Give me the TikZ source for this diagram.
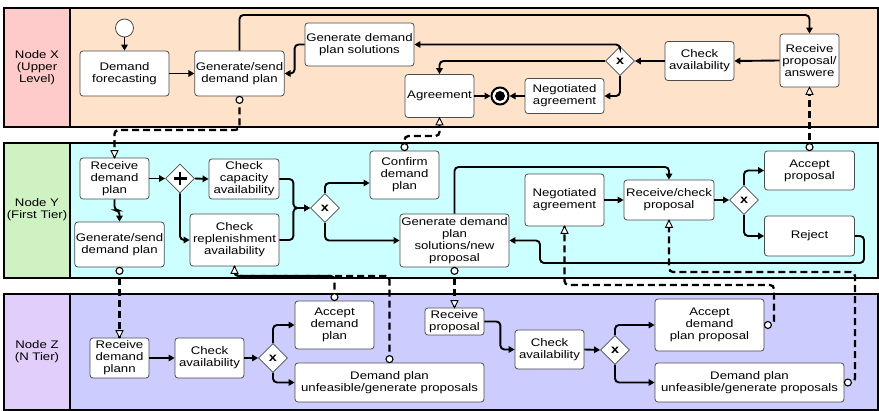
\documentclass[tikz,border=0pt]{standalone}
\usepackage{fontspec}
\setmainfont{Liberation Sans}[FakeStretch=1.2]
\usetikzlibrary{arrows.meta,shapes.geometric,calc}

\definecolor{laneXlab}{RGB}{255,202,202}
\definecolor{laneX}{RGB}{255,226,202}
\definecolor{laneYlab}{RGB}{206,242,194}
\definecolor{laneY}{RGB}{204,255,255}
\definecolor{laneZlab}{RGB}{226,206,250}
\definecolor{laneZ}{RGB}{204,204,255}

\begin{document}
\begin{tikzpicture}[x=1pt,y=-1pt,
  font=\fontsize{11}{12}\selectfont,
  task/.style={draw=black!70, line width=0.8pt, fill=white, rounded corners=3pt,
    align=center, inner sep=1pt},
  sz/.style 2 args={minimum width=#1pt, minimum height=#2pt},
  gate/.style={diamond, aspect=1, draw=black!70, line width=0.8pt, fill=white,
    minimum width=29pt, minimum height=29pt, inner sep=0pt,
    font=\bfseries\fontsize{12}{12}\selectfont},
  lanelabel/.style={align=center, inner sep=0pt},
  laneborder/.style={line width=1.4pt, draw=black},
  flow/.style={line width=1.9pt, rounded corners=4pt,
    -{Triangle[length=6pt,width=6.5pt]}},
  msg/.style={line width=2.3pt, rounded corners=4pt, dash pattern=on 7pt off 4pt},
  mdot/.style={circle, draw=black, fill=white, line width=1.1pt, minimum size=7pt, inner sep=0pt},
  mtip/.style={draw=black, fill=white, line width=0.9pt, line join=miter},
]
\useasboundingbox (0,0) rectangle (879,411);

% ---------- pools / lanes ----------
\fill[laneX] (70,8) rectangle (878,127);
\fill[laneXlab] (4,8) rectangle (70,127);
\draw[laneborder] (4,8) rectangle (878,127) (70,8) -- (70,127);

\fill[laneY] (70,143) rectangle (878,278);
\fill[laneYlab] (4,143) rectangle (70,278);
\draw[laneborder] (4,143) rectangle (878,278) (70,143) -- (70,278);

\fill[laneZ] (70,294) rectangle (878,410);
\fill[laneZlab] (4,294) rectangle (70,410);
\draw[laneborder] (4,294) rectangle (878,410) (70,294) -- (70,410);

\node[lanelabel] (labX) at (37,68) {Node X\\(Upper\\Level)};
\node[lanelabel] (labY) at (37,210) {Node Y\\(First Tier)};
\node[lanelabel] (labZ) at (37,352) {Node Z\\(N Tier)};

% ---------- Node X (upper level) ----------
\node[circle, draw=black!70, line width=0.8pt, fill=white, minimum size=18pt, inner sep=0pt] (start) at (124.5,28) {};
\node[task, sz={89}{45}] (fc)  at (124.5,73.5) {Demand\\forecasting};
\node[task, sz={89}{45}] (gsX) at (239.5,73.5) {Generate/send\\demand plan};
\node[task, sz={109}{43}] (gps) at (359.5,44.5) {Generate demand\\plan solutions};
\node[task, sz={69}{43}] (agr) at (439.5,96) {Agreement};
\node[circle, draw=black, line width=2pt, fill=white, minimum size=17pt, inner sep=0pt] (endev) at (500,96) {};
\fill (endev.center) circle (5pt);
\node[task, sz={79}{35}] (negX) at (564.5,96) {Negotiated\\agreement};
\node[gate] (gwX) at (620,61) {x};
\node[task, sz={69}{39}] (caX) at (699.5,61) {Check\\availability};
\node[task, sz={59}{53}] (rpX) at (809.5,60.5) {Receive\\proposal/\\answere};

% ---------- Node Y (first tier) ----------
\node[task, sz={69}{41}] (rdp) at (114.5,178.5) {Receive\\demand\\plan};
\node[gate] (gwP) at (180,178.5) {};
\draw[line width=2.6pt] ($(gwP.center)+(-6.5,0)$) -- ($(gwP.center)+(6.5,0)$)
  ($(gwP.center)+(0,-6.5)$) -- ($(gwP.center)+(0,6.5)$);
\node[task, sz={70}{40}] (cca) at (244,179) {Check\\capacity\\availability};
\node[task, sz={89}{52}] (cra) at (234.5,240) {Check\\replenishment\\availability};
\node[task, sz={89}{45}] (gsY) at (119.5,244.5) {Generate/send\\demand plan};
\node[gate] (gwY1) at (325,208) {x};
\node[task, sz={69}{48}] (cdp) at (404.5,175) {Confirm\\demand\\plan};
\node[task, sz={109}{53}] (gsp) at (454.5,240.5) {Generate demand\\plan\\solutions/new\\proposal};
\node[task, sz={79}{52}] (negY) at (564.5,200) {Negotiated\\agreement};
\node[task, sz={90}{40}] (rcp) at (669,200) {Receive/check\\proposal};
\node[gate] (gwY2) at (744,200) {x};
\node[task, sz={90}{39}] (acp) at (809.5,170.5) {Accept\\proposal};
\node[task, sz={90}{40}] (rej) at (809.5,236) {Reject};

% ---------- Node Z (N tier) ----------
\node[task, sz={59}{40}] (rdz) at (119.5,358) {Receive\\demand\\plann};
\node[task, sz={69}{40}] (caZ1) at (209.5,358) {Check\\availability};
\node[gate] (gwZ1) at (273,358) {x};
\node[task, sz={79}{48}] (adp) at (334.5,325) {Accept\\demand\\plan};
\node[task, sz={189}{39}] (unf1) at (389.5,382.5) {Demand plan\\unfeasible/generate proposals};
\node[task, sz={59}{27}] (rpz) at (454.5,321.5) {Receive\\proposal};
\node[task, sz={69}{39}] (caZ2) at (549.5,349.5) {Check\\availability};
\node[gate] (gwZ2) at (615,350) {x};
\node[task, sz={109}{52}] (adpp) at (709.5,325) {Accept\\demand\\plan proposal};
\node[task, sz={189}{39}] (unf2) at (749.5,382.5) {Demand plan\\unfeasible/generate proposals};

% ---------- sequence flows: Node X ----------
\draw[flow] (start.south) -- (fc.north);
\draw[flow] (fc.east) -- (gsX.west);
\draw[flow] (gsX.north) -- (gsX.north |- 0,15) -| (rpX.north);
\draw[flow] (rpX.west) -- (caX.east);
\draw[flow] (caX.west) -- (gwX.east);
\draw[flow] (gwX.north) |- (gps.east);
\draw[flow] (gwX.west) -| (agr.north);
\draw[flow] (gwX.south) |- (negX.east);
\draw[flow] (negX.west) -- (endev.east);
\draw[flow] (agr.east) -- (endev.west);
\draw[flow] (gps.west) -- ++(-10,0) |- (gsX.east);

% ---------- sequence flows: Node Y ----------
\draw[flow] (rdp.south) -- ++(0,11) -| (gsY.north);
\draw[flow] (rdp.east) -- (gwP.west);
\draw[flow] (gwP.east) -- (cca.west);
\draw[flow] (gwP.south) |- (cra.west);
\draw[flow] (cca.east) -- ++(14,0) |- (gwY1.west);
\draw[flow] (cra.east) -- ++(14,0) |- (gwY1.west);
\draw[flow] (gwY1.north) |- (cdp.west |- 0,183);
\draw[flow] (gwY1.south) |- (gsp.west);
\draw[flow] (gsp.north) -- (gsp.north |- 0,167) -| (rcp.north);
\draw[flow] (negY.east) -- (rcp.west);
\draw[flow] (rcp.east) -- (gwY2.west);
\draw[flow] (gwY2.north) |- (acp.west);
\draw[flow] (gwY2.south) |- (rej.west);
\draw[flow] (rej.east) -| (864,263) -| (540,240.5) -- (gsp.east);

% ---------- sequence flows: Node Z ----------
\draw[flow] (rdz.east) -- (caZ1.west);
\draw[flow] (caZ1.east) -- (gwZ1.west);
\draw[flow] (gwZ1.north) |- (adp.west);
\draw[flow] (gwZ1.south) |- (unf1.west);
\draw[flow] (rpz.east) -- ++(16,0) |- (caZ2.west);
\draw[flow] (caZ2.east) -- (gwZ2.west);
\draw[flow] (gwZ2.north) |- (adpp.west);
\draw[flow] (gwZ2.south) |- (unf2.west);

% ---------- message flows (dashed lines) ----------
\draw[msg] (gsX.south) -- (gsX.south |- 0,130) -| (rdp.north);
\draw[msg] (cdp.north) -- (cdp.north |- 0,136) -| (agr.south);
\draw[msg] (acp.north) -- (rpX.south);
\draw[msg] (gsY.south) -- (rdz.north);
\draw[msg] (adp.north) -- (adp.north |- 0,276) -| (cra.south);
\draw[msg] (unf1.north) -- (unf1.north |- 0,276) -| (cra.south);
\draw[msg] (gsp.south) -- (rpz.north);
\draw[msg] (adpp.east) -| (774,285) -| (negY.south);
\draw[msg] (unf2.east) -| (855,272) -| (rcp.south);

% ---------- message flow ends: source circles ----------
\node[mdot] (m1) at ($(gsX.south)+(0,3.5)$) {};
\node[mdot] (m2) at ($(cdp.north)+(0,-3.5)$) {};
\node[mdot] (m3) at ($(acp.north)+(0,-3.5)$) {};
\node[mdot] (m4) at ($(gsY.south)+(0,3.5)$) {};
\node[mdot] (m5) at ($(adp.north)+(0,-3.5)$) {};
\node[mdot] (m6) at ($(unf1.north)+(0,-3.5)$) {};
\node[mdot] (m7) at ($(gsp.south)+(0,3.5)$) {};
\node[mdot] (m8) at ($(adpp.east)+(3.5,0)$) {};
\node[mdot] (m9) at ($(unf2.east)+(3.5,0)$) {};

% ---------- message flow ends: open arrowheads ----------
\draw[mtip] (rdp.north) -- ++(-3.5,-7) -- ++(7,0) -- cycle;
\draw[mtip] (agr.south) -- ++(-3.5,7) -- ++(7,0) -- cycle;
\draw[mtip] (rpX.south) -- ++(-3.5,7) -- ++(7,0) -- cycle;
\draw[mtip] (rdz.north) -- ++(-3.5,-7) -- ++(7,0) -- cycle;
\draw[mtip] (cra.south) -- ++(-3.5,7) -- ++(7,0) -- cycle;
\draw[mtip] (rpz.north) -- ++(-3.5,-7) -- ++(7,0) -- cycle;
\draw[mtip] (negY.south) -- ++(-3.5,7) -- ++(7,0) -- cycle;
\draw[mtip] (rcp.south) -- ++(-3.5,7) -- ++(7,0) -- cycle;
\end{tikzpicture}
\end{document}
